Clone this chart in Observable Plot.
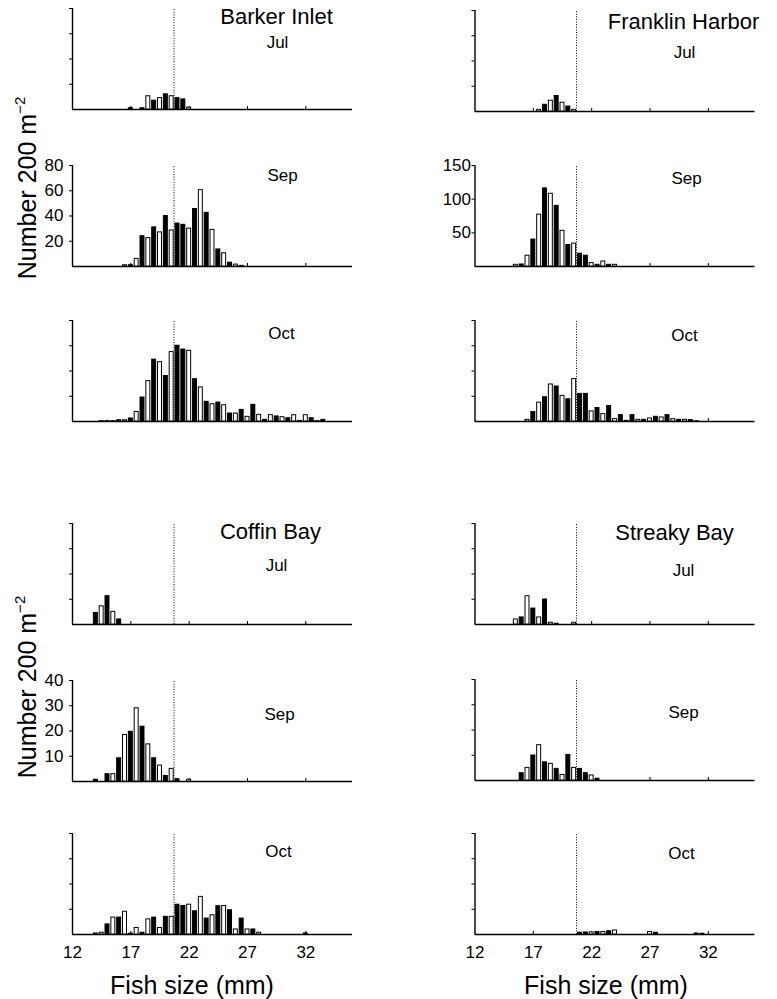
<!DOCTYPE html>
<html><head><meta charset="utf-8">
<script src="https://cdn.jsdelivr.net/npm/d3@7"></script>
<script src="https://cdn.jsdelivr.net/npm/@observablehq/plot@0.6"></script>
<style>
body{margin:0;background:#fff;}
#chart{position:relative;width:777px;height:999px;font-family:"Liberation Sans",Arial,sans-serif;color:#000;overflow:hidden;}
.panel{position:absolute;}
.lbl{position:absolute;white-space:nowrap;line-height:1;}
</style></head><body><div id="chart"></div>
<script>
// ---------- data ----------
const sites = ["Barker Inlet", "Franklin Harbor", "Coffin Bay", "Streaky Bay"];
const months = ["Jul", "Sep", "Oct"];
const xTicks = [12, 17, 22, 27, 32];
const sizeDomain = [12, 36];
const cutoffSize = [20.7];
const siteYMax = [80, 150, 40, 40];
const siteYTickLabels = [[20, 40, 60, 80], [50, 100, 150], [10, 20, 30, 40], []];

// [fish size (mm), number per 200 m^2]
const barkerJul = [[17,1],[18,1],[18.5,10.5],[19,7],[19.5,9],[20,12],[20.5,10.5],[21,9],[21.5,8],[22,1.5]];
const barkerSep = [[16.5,1],[17,1],[17.5,6],[18,24],[18.5,22.5],[19,31],[19.5,27],[20,40],[20.5,28.5],[21,34],[21.5,33],[22,30],[22.5,45.5],[23,60.5],[23.5,42.5],[24,29],[24.5,13.5],[25,10.5],[25.5,3],[26,1.5],[26.5,0.5]];
const barkerOct = [[14.5,0.3],[15,0.3],[15.5,0.3],[16,1],[16.5,1],[17,2.4],[17.5,7.6],[18,19],[18.5,32],[19,49],[19.5,47],[20,36],[20.5,55],[21,60],[21.5,57],[22,56],[22.5,33.5],[23,27],[23.5,15.6],[24,13.7],[24.5,15],[25,12.9],[25.5,6.3],[26,6.3],[26.5,9.2],[27,3.7],[27.5,13.2],[28,5.3],[28.5,1.3],[29,5],[29.5,4],[30,3.4],[30.5,2.6],[31,5],[31.5,0.5],[32,5],[32.5,2.6],[33,0.3],[33.5,1.3]];
const franklinJul = [[17.5,2.5],[18,10],[18.5,16],[19,23],[19.5,13],[20,7.4],[20.5,2.5]];
const franklinSep = [[15.5,2.5],[16,3],[16.5,16],[17,40],[17.5,77],[18,116],[18.5,108],[19,90],[19.5,53],[20,32],[20.5,34],[21,19],[21.5,16],[22,5],[22.5,2.5],[23,7.4],[23.5,2.5],[24,2.5]];
const franklinOct = [[16.5,2.5],[17,14],[17.5,28],[18,36],[18.5,55],[19,52],[19.5,38],[20,33],[20.5,63],[21,41],[21.5,41],[22,15],[22.5,20],[23,11],[23.5,23],[24,3.5],[24.5,9.4],[25,1],[25.5,9.4],[26,2.5],[26.5,2.5],[27,4.5],[27.5,7],[28,6],[28.5,9.4],[29,3.5],[29.5,2.5],[30,2.5],[30.5,2],[31,0.5]];
const coffinJul = [[14,4.6],[14.5,7.2],[15,11.2],[15.5,5],[16,2]];
const coffinSep = [[14,0.7],[15,2.9],[15.5,2.9],[16,9.2],[16.5,18.4],[17,19.7],[17.5,29],[18,21.7],[18.5,14.7],[19,9.2],[19.5,6.3],[20,2.2],[20.5,5],[21,0.9],[22,0.7]];
const coffinOct = [[14,0.4],[14.5,0.7],[15,4],[15.5,6.7],[16,6.7],[16.5,9],[17,0.3],[17.5,2.6],[18,0.7],[18.5,6],[19,6.7],[19.5,2.6],[20,7],[20.5,7],[21,11.8],[21.5,11.3],[22,11.8],[22.5,9.2],[23,14.9],[23.5,6.3],[24,7.6],[24.5,11.2],[25,11.3],[25.5,9.6],[26,2],[26.5,6.3],[27,2],[27.5,2],[28,0.7],[32,0.4]];
const streakyJul = [[15.5,2],[16,2.8],[16.5,11.2],[17,6.3],[17.5,2.8],[18,9.9],[18.5,0.7],[19,0.3],[20.5,0.7]];
const streakySep = [[16,2.9],[16.5,5],[17,9.9],[17.5,14],[18,7.2],[18.5,6.6],[19,4.6],[19.5,2.2],[20,10.1],[20.5,5],[21,4.6],[21.5,2.9],[22,2],[22.5,0.7]];
const streakyOct = [[21,0.7],[21.5,0.8],[22,0.8],[22.5,1],[23,1],[23.5,1.3],[24,1.6],[27,1],[27.5,0.7],[31,0.4],[31.5,0.3]];

const panelData = [
  [barkerJul, barkerSep, barkerOct],
  [franklinJul, franklinSep, franklinOct],
  [coffinJul, coffinSep, coffinOct],
  [streakyJul, streakySep, streakyOct]
];

// ---------- layout ----------
const chart = document.getElementById("chart");
const plotH = 101, plotW = 280;
const colLeft = [0, 400], colMarginLeft = [72, 74.5], colWidth = [362, 377];
const plotTops = [[8, 165, 320, 523, 680, 833], [10, 165, 320, 523, 679, 833]];
// month label centre offsets (dx, dy) from plot top-left
const monthPos = [
  [[205, 34], [210, 10], [209, 13]],
  [[209.5, 42], [211.5, 13], [209.5, 15]],
  [[204, 42], [207, 34], [206, 18]],
  [[208.5, 47], [208.5, 33], [206.5, 20]]
];
const sitePos = [[204, 8], [208.5, 11], [198, 8], [199.5, 9]];

function drawPanel(col, row) {
  const site = (row < 3 ? 0 : 2) + col;
  const m = row % 3;
  const data = panelData[site][m].map(([size, count]) => ({size, count}));
  const ymax = siteYMax[site];
  const mTop = 14, mBottom = row === 5 ? 40 : 10;
  const labeled = m === 1 && siteYTickLabels[site].length > 0;
  const unitTicks = [1, 2, 3, 4].map(i => ymax * i / 4);
  const marks = [
    Plot.ruleY([0], {stroke: "#000", strokeWidth: 1.4}),
    Plot.ruleX([sizeDomain[0]], {y1: 0, y2: ymax, stroke: "#000", strokeWidth: 1.4}),
    Plot.ruleX(xTicks.slice(1), {y1: 0, y2: ymax * 3 / plotH, stroke: "#000", strokeWidth: 1}),
    Plot.ruleX(cutoffSize, {y1: 0, y2: ymax, stroke: "#000", strokeWidth: 1, strokeDasharray: "1,1.6"}),
    Plot.rectY(data, {
      x1: d => d.size - 0.17, x2: d => d.size + 0.17, y: "count",
      fill: d => ((Math.round(d.size * 2) % 2 === 0) !== (d.size > 21.25)) ? "#000" : "#fff",
      stroke: "#000", strokeWidth: 1
    }),
    Plot.axisY({ticks: labeled ? siteYTickLabels[site] : unitTicks, tickSize: 3, label: null,
      tickPadding: site === 1 ? 1 : 6, fontSize: 17,
      tickFormat: labeled ? d => d : () => ""}),
    Plot.text([months[m]], {frameAnchor: "top-left", dx: monthPos[site][m][0], dy: monthPos[site][m][1],
      text: d => d, fontSize: 17, textAnchor: "middle", lineAnchor: "middle"})
  ];
  if (m === 0) {
    marks.push(Plot.text([sites[site]], {frameAnchor: "top-left", dx: sitePos[site][0], dy: sitePos[site][1],
      text: d => d, fontSize: 22, textAnchor: "middle", lineAnchor: "middle"}));
  }
  if (row === 5) {
    marks.push(Plot.axisX({ticks: xTicks, tickSize: 0, tickPadding: 11, fontSize: 17, label: null}));
  }
  const svg = Plot.plot({
    width: colWidth[col], height: mTop + plotH + mBottom,
    marginLeft: colMarginLeft[col], marginRight: colWidth[col] - colMarginLeft[col] - plotW,
    marginTop: mTop, marginBottom: mBottom,
    style: {fontFamily: '"Liberation Sans", Arial, sans-serif', color: "#000", background: "transparent", overflow: "visible"},
    x: {domain: sizeDomain, axis: null},
    y: {domain: [0, ymax], axis: null},
    marks
  });
  svg.classList.add("panel");
  svg.style.left = colLeft[col] + "px";
  svg.style.top = (plotTops[col][row] - mTop) + "px";
  chart.appendChild(svg);
}
for (let col = 0; col < 2; col++) for (let row = 0; row < 6; row++) drawPanel(col, row);

function addLabel(html, x, y, size, rotate) {
  const d = document.createElement("div");
  d.className = "lbl";
  d.innerHTML = html;
  d.style.fontSize = size + "px";
  d.style.left = x + "px";
  d.style.top = y + "px";
  d.style.transform = "translate(-50%,-50%)" + (rotate ? " rotate(-90deg)" : "");
  chart.appendChild(d);
}
const yTitle = 'Number 200 m<sup style="font-size:0.6em;vertical-align:0.7em">−2</sup>';
addLabel(yTitle, 26, 188, 25, true);
addLabel(yTitle, 26, 687, 25, true);
addLabel("Fish size (mm)", 192, 985, 25, false);
addLabel("Fish size (mm)", 606, 985, 25, false);
</script></body></html>
